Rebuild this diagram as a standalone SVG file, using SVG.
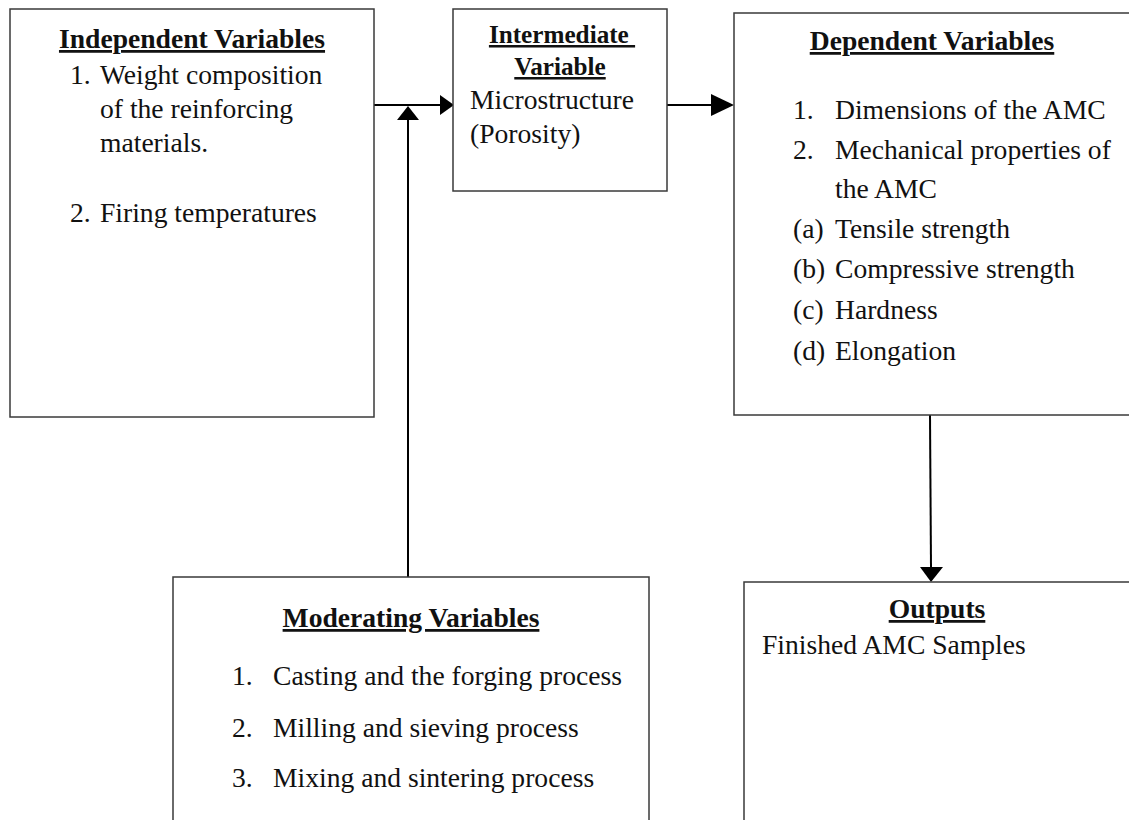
<svg xmlns="http://www.w3.org/2000/svg" width="1129" height="820" viewBox="0 0 1129 820">
<style>
.box{fill:#fff;stroke:#3a3a3a;stroke-width:1.5}
.t{font-family:"Liberation Serif","Times New Roman",serif;font-size:27.6px;fill:#111}
.h{font-family:"Liberation Serif","Times New Roman",serif;font-size:27.6px;font-weight:bold;fill:#111;text-decoration:underline;text-anchor:middle}
.c{stroke:#000;stroke-width:2;fill:none}
.ah{fill:#000}
</style>
<rect x="0" y="0" width="1129" height="820" fill="#fff"/>
<g id="connectors">
<line class="c" x1="374" y1="105" x2="442" y2="105"/>
<polygon class="ah" points="454,105 440,95 440,115"/>
<line class="c" x1="408" y1="577" x2="408" y2="118"/>
<polygon class="ah" points="408,106 397,120 419,120"/>
<line class="c" x1="667" y1="105" x2="714" y2="105"/>
<polygon class="ah" points="734,105 711,94 711,116"/>
<line class="c" x1="930" y1="415" x2="931" y2="568"/>
<polygon class="ah" points="931,582 920,567 943,567"/>
</g>
<g id="independent">
<rect class="box" x="10" y="9" width="364" height="408"/>
<text class="h" x="192" y="48">Independent Variables</text>
<text class="t" x="70" y="84">1.</text>
<text class="t" x="100" y="84">Weight composition</text>
<text class="t" x="100" y="118">of the reinforcing</text>
<text class="t" x="100" y="152">materials.</text>
<text class="t" x="70" y="222">2.</text>
<text class="t" x="100" y="222">Firing temperatures</text>
</g>
<g id="intermediate">
<rect class="box" x="453" y="9" width="214" height="182"/>
<text class="h" x="562" y="43" style="font-size:25.2px;white-space:pre">Intermediate </text>
<text class="h" x="560" y="75" style="font-size:25.2px">Variable</text>
<text class="t" x="470" y="109">Microstructure</text>
<text class="t" x="470" y="143">(Porosity)</text>
</g>
<g id="dependent">
<rect class="box" x="734" y="13" width="400" height="402"/>
<text class="h" x="932" y="50">Dependent Variables</text>
<text class="t" x="793" y="119">1.</text>
<text class="t" x="835" y="119">Dimensions of the AMC</text>
<text class="t" x="793" y="159">2.</text>
<text class="t" x="835" y="159">Mechanical properties of</text>
<text class="t" x="835" y="198">the AMC</text>
<text class="t" x="793" y="238">(a)</text>
<text class="t" x="835" y="238">Tensile strength</text>
<text class="t" x="793" y="278">(b)</text>
<text class="t" x="835" y="278">Compressive strength</text>
<text class="t" x="793" y="319">(c)</text>
<text class="t" x="835" y="319">Hardness</text>
<text class="t" x="793" y="360">(d)</text>
<text class="t" x="835" y="360">Elongation</text>
</g>
<g id="moderating">
<rect class="box" x="173" y="577" width="476" height="260"/>
<text class="h" x="411" y="627">Moderating Variables</text>
<text class="t" x="232" y="685">1.</text>
<text class="t" x="273" y="685">Casting and the forging process</text>
<text class="t" x="232" y="737">2.</text>
<text class="t" x="273" y="737">Milling and sieving process</text>
<text class="t" x="232" y="787">3.</text>
<text class="t" x="273" y="787">Mixing and sintering process</text>
</g>
<g id="outputs">
<rect class="box" x="744" y="582" width="400" height="260"/>
<text class="h" x="937" y="618">Outputs</text>
<text class="t" x="762" y="654">Finished AMC Samples</text>
</g>
</svg>
